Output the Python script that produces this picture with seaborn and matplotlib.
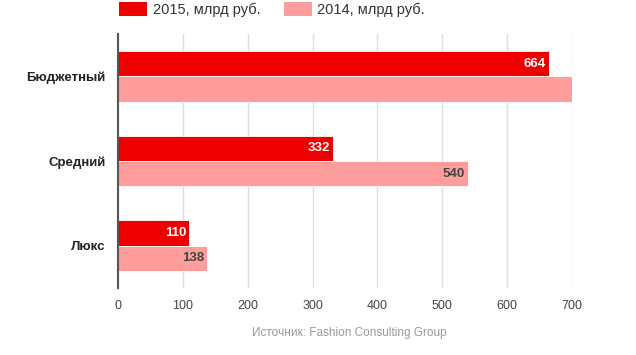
import pandas as pd
import matplotlib.pyplot as plt
import seaborn as sns
from matplotlib.patches import Patch

categories = ['Бюджетный', 'Средний', 'Люкс']
values_2015 = [664, 332, 110]
values_2014 = [700, 540, 138]
labels_2015 = ['664', '332', '110']
labels_2014 = ['', '540', '138']
series = ['2015, млрд руб.', '2014, млрд руб.']
colors = ['#EE0000', '#FF9C9C']

df = pd.DataFrame({
    'Категория': categories * 2,
    'Значение': values_2015 + values_2014,
    'Серия': [series[0]] * 3 + [series[1]] * 3,
})

sns.set_theme(style='white')
plt.rcParams['font.family'] = ['Liberation Sans', 'DejaVu Sans']

fig = plt.figure(figsize=(6.36, 3.55), dpi=100)
ax = fig.add_axes([0.1855, 0.189, 0.7138, 0.715])

sns.barplot(data=df, x='Значение', y='Категория', hue='Серия', orient='h',
            palette=colors, saturation=1, width=0.6, edgecolor='white',
            linewidth=0.6, legend=False, ax=ax)

ax.set_xlim(0, 700)
ax.set_ylim(2.5, -0.5)
ax.set_xticks(range(0, 701, 100))
ax.xaxis.grid(True, color='#dddddd', linewidth=1)
ax.set_axisbelow(True)
for s in ['top', 'right', 'bottom']:
    ax.spines[s].set_visible(False)
ax.spines['left'].set_color('#555555')
ax.spines['left'].set_linewidth(1.5)
ax.set_xlabel('')
ax.set_ylabel('')
ax.tick_params(axis='x', length=0, pad=9, labelsize=9, labelcolor='#444444')
ax.tick_params(axis='y', length=0, pad=9)
for t in ax.get_yticklabels():
    t.set_fontweight('bold')
    t.set_fontsize(9.5)
    t.set_color('#222222')

# value labels inside bar ends
for cont, labs, col in zip(ax.containers, [labels_2015, labels_2014], ['white', '#444444']):
    for p, lab in zip(cont.patches, labs):
        if lab:
            ax.text(p.get_width() - 5, p.get_y() + p.get_height() / 2, lab,
                    ha='right', va='center', color=col, fontsize=9.5,
                    fontweight='bold')

handles = [Patch(facecolor=c, edgecolor='none') for c in colors]
fig.legend(handles, series, loc='upper left', bbox_to_anchor=(0.167, 1.03),
           ncol=2, frameon=False, fontsize=10.5, handlelength=1.9,
           handleheight=1.1, columnspacing=1.6, handletextpad=0.4,
           labelcolor='#333333')

fig.text(0.55, 0.062, 'Источник: Fashion Consulting Group', ha='center',
         va='center', fontsize=8.5, color='#999999')

fig.savefig('out.png', dpi=100)
